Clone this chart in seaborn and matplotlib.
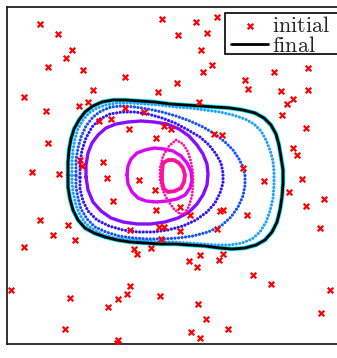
import matplotlib
matplotlib.use("Agg")
import matplotlib.pyplot as plt
from matplotlib.patches import Rectangle
import seaborn as sns

# ---- data (pixel-space coordinates) ----
init_x = [40, 58, 72, 66, 48, 83, 93, 24, 88, 79, 46,
          162, 196, 217, 178, 207, 201, 212, 203, 125, 177, 158, 199, 125, 144, 99, 111,
          274, 308, 245, 248, 281, 308, 293, 287, 282,
          48, 32, 59, 80, 82, 103, 107, 113, 40, 68, 53, 75,
          129, 164, 171, 156, 214, 222, 139, 155, 156, 180, 190, 220, 223, 130, 159, 164, 180, 217, 161,
          306, 293, 297, 243, 264, 302, 289, 324, 306, 247, 320,
          24, 134, 137, 151, 200, 189, 197, 219, 223, 253, 271, 330, 321, 11, 70, 108, 118, 127, 130,
          160, 198, 206, 65, 191, 200, 228, 118, 117]
init_y = [24, 34, 50, 58, 67, 70, 90, 97, 102, 106, 111,
          19, 22, 17, 35, 33, 50, 65, 72, 77, 83, 92, 102, 108, 112, 121, 119,
          72, 68, 80, 89, 91, 90, 99, 104, 115,
          143, 172, 174, 160, 166, 162, 178, 201, 220, 225, 235, 240,
          129, 126, 129, 138, 134, 135, 180, 190, 210, 207, 215, 211, 210, 230, 227, 227, 231, 229, 239,
          128, 148, 155, 168, 181, 179, 192, 199, 206, 215, 228,
          247, 249, 254, 248, 255, 261, 267, 260, 254, 275, 284, 290, 313, 290, 298, 307, 299, 294, 286,
          296, 304, 319, 329, 332, 338, 329, 340, 343]

final_x = [68, 68, 69, 71, 74, 79, 85, 93, 102, 113, 125, 140, 155, 170, 185, 200, 215, 230, 243, 255,
           264, 271, 276, 279, 281, 283, 283, 282, 280, 277, 272, 265, 256, 245, 232, 220, 205, 190,
           175, 160, 145, 130, 117, 105, 94, 85, 78, 73, 70, 68, 68]
final_y = [175, 162, 150, 139, 129, 120, 112, 106, 102, 100, 100, 101, 102, 104, 105, 106, 107, 108, 110, 113,
           118, 125, 134, 145, 157, 170, 183, 197, 210, 222, 232, 240, 245, 248, 249, 248, 246, 245,
           244, 244, 243, 242, 240, 237, 233, 228, 220, 210, 199, 187, 175]

lblue_x = [72, 72, 73, 75, 78, 83, 89, 97, 106, 117, 130, 145, 160, 175, 190, 205, 220, 233, 245, 254,
           261, 266, 270, 273, 274, 274, 273, 270, 266, 260, 252, 242, 230, 217, 203, 188, 173, 158,
           143, 128, 115, 104, 94, 86, 80, 76, 73, 72, 72]
lblue_y = [175, 162, 150, 139, 129, 120, 113, 108, 105, 103, 103, 104, 105, 107, 108, 110, 112, 115, 119, 124,
           131, 140, 150, 161, 172, 185, 198, 211, 222, 232, 239, 243, 245, 245, 244, 243, 242, 242,
           241, 240, 238, 235, 230, 224, 215, 205, 192, 183, 175]

blue_x = [76, 76, 78, 81, 86, 93, 101, 111, 122, 135, 148, 162, 176, 190, 203, 215, 225, 233, 239, 243,
          245, 245, 243, 238, 231, 221, 208, 193, 178, 163, 148, 133, 119, 106, 95, 87, 81, 78, 76, 76]
blue_y = [175, 160, 148, 137, 126, 117, 111, 107, 106, 107, 109, 112, 116, 121, 127, 134, 142, 150, 159, 167,
          175, 185, 196, 207, 217, 226, 232, 236, 238, 239, 239, 238, 236, 232, 227, 219, 209, 198, 187, 175]

indigo_x = [80, 80, 82, 86, 92, 100, 110, 122, 135, 148, 162, 175, 188, 200, 209, 216, 221, 223, 223,
            220, 215, 207, 196, 183, 168, 153, 138, 123, 109, 97, 88, 83, 80, 80]
indigo_y = [177, 163, 150, 138, 127, 119, 114, 112, 112, 114, 118, 123, 130, 137, 145, 154, 163, 173, 183,
            193, 203, 212, 220, 226, 230, 232, 232, 230, 226, 220, 211, 201, 189, 177]

purple_x = [86, 86, 88, 92, 98, 106, 116, 128, 141, 154, 167, 179, 189, 197, 203, 207, 208, 207, 203,
            197, 189, 178, 165, 151, 137, 123, 111, 101, 93, 88, 86]
purple_y = [177, 165, 153, 143, 135, 128, 124, 122, 121, 122, 124, 129, 136, 145, 154, 164, 174, 185, 195,
            204, 212, 218, 222, 224, 224, 222, 218, 211, 202, 190, 177]

magenta_x = [127, 128, 131, 137, 145, 154, 164, 173, 181, 187, 191, 192, 190, 185, 177, 167, 156, 146,
             138, 132, 128, 127]
magenta_y = [175, 166, 159, 153, 150, 148, 149, 151, 156, 163, 171, 180, 188, 195, 199, 201, 202, 201,
             198, 192, 184, 175]

pinkd_x = [163, 168, 174, 179, 183, 185, 184, 181, 175, 168, 164, 162, 162, 163]
pinkd_y = [163, 160, 160, 163, 168, 175, 182, 188, 191, 192, 189, 182, 172, 163]

pinke_x = [176, 183, 188, 191, 193, 193, 192, 189, 185, 180, 174, 168, 163, 160, 160, 163, 169, 176]
pinke_y = [140, 144, 152, 162, 173, 185, 196, 206, 213, 214, 209, 201, 191, 180, 168, 156, 146, 140]

labels = [r"$\mathrm{initial}$", r"$\mathrm{final}$"]

# ---- figure ----
sns.set_style("white")
plt.rcParams["font.family"] = ["cmr10", "DejaVu Serif"]
plt.rcParams["mathtext.fontset"] = "cm"
plt.rcParams["axes.unicode_minus"] = False

W, H = 337, 358
fig = plt.figure(figsize=(W / 100, H / 100), dpi=100)
ax = fig.add_axes([7 / W, 14 / H, 338 / W, 337 / H])

dotted = dict(linestyle=(0, (0.01, 1.1)), dash_capstyle="round")

def curve(xs, ys, color, lw, **kw):
    sns.lineplot(x=xs, y=ys, sort=False, estimator=None, color=color,
                 linewidth=lw, ax=ax, **kw)

# cyan halo under the final curve
curve(final_x, final_y, "#00e8ff", 3.2)
curve(lblue_x, lblue_y, "#1ea2ff", 2.3, **dotted)
curve(blue_x, blue_y, "#1650ff", 2.3, **dotted)
curve(indigo_x, indigo_y, "#3414ff", 2.3, **dotted)
curve(purple_x, purple_y, "#8a0cff", 2.4)
curve(magenta_x, magenta_y, "#dc00ff", 2.4)
curve(pinke_x, pinke_y, "#ff10a0", 2.1, **dotted)
curve(pinkd_x, pinkd_y, "#ff10a0", 2.8)

sns.lineplot(x=final_x, y=final_y, sort=False, estimator=None, color="black",
             linewidth=2.0, ax=ax, label=labels[1])

sns.scatterplot(x=init_x, y=init_y, marker="x", color="red", s=16,
                linewidth=1.6, ax=ax, label=labels[0], zorder=3)

ax.set_xlim(7, 345)
ax.set_ylim(344, 7)
ax.set_xticks([])
ax.set_yticks([])
for s in ax.spines.values():
    s.set_visible(True)
    s.set_color("#222222")
    s.set_linewidth(1.3)

# legend frame (square box partly running off the right edge)
box = Rectangle((225 / W, 1 - 54 / H), 125 / W, 41 / H, transform=fig.transFigure,
                facecolor="white", edgecolor="black", linewidth=1.2,
                zorder=4.9, clip_on=False)
ax.add_patch(box)

h, l = ax.get_legend_handles_labels()
order = [l.index(labels[0]), l.index(labels[1])]
leg = ax.legend([h[i] for i in order], [l[i] for i in order], loc="upper left",
                bbox_to_anchor=(228.5 / W, 1 - 13 / H), bbox_transform=fig.transFigure,
                fontsize=16, frameon=False, labelspacing=0.0, borderpad=0.12,
                handlelength=1.66, handletextpad=0.18, borderaxespad=0.0,
                scatterpoints=1)
leg.set_zorder(5)

fig.savefig("out.png", dpi=100)
